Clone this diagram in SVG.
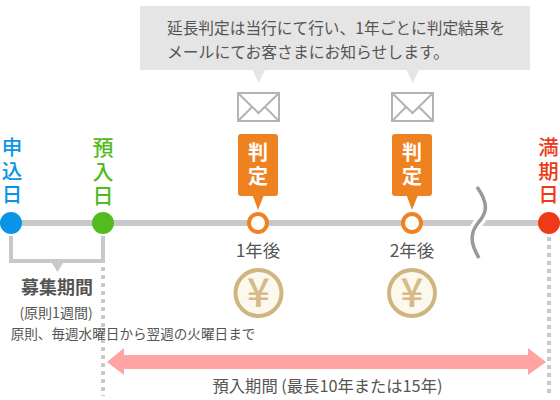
<svg xmlns="http://www.w3.org/2000/svg" width="560" height="400" viewBox="0 0 560 400">
<style>
text{font-family:"Noto Sans CJK JP","Noto Sans",sans-serif;fill:#555}
.m{text-anchor:middle}
.big{font-size:21px;font-weight:500;writing-mode:vertical-rl;letter-spacing:3px}
.edge{font-family:"Liberation Sans","Noto Sans CJK JP",sans-serif;font-size:20.500px}
.j{font-size:20px;fill:#fff;font-weight:700;writing-mode:vertical-rl;letter-spacing:4px}
.env{fill:#fff;stroke:#b3b3b3;stroke-width:2}
.envl{fill:none;stroke:#b3b3b3;stroke-width:2}
.grey{fill:#e5e5e5}
.or{fill:#ee8220}
.ring{fill:#fff;stroke:#ee8220;stroke-width:4}
.coin{fill:#fdf8ee;stroke:#cfb57f;stroke-width:4}
.yen{font-size:40px;text-anchor:middle;fill:#d4bb87;font-weight:500}
.dots{stroke:#c8c8c8;stroke-width:4;stroke-dasharray:4 4;fill:none}
</style>
<g id="connectors">
<path d="M0 223H549" stroke="#c8c8c8" stroke-width="6" fill="none"/>
<path d="M477 187C490 205 486 214 478 223C470 233 470 243 479 258" stroke="#fff" stroke-width="10" fill="none"/>
<path d="M477 187C490 205 486 214 478 223C470 233 470 243 479 258" stroke="#999" stroke-width="3.500" fill="none"/>
<path d="M11 236V261H103V236" stroke="#c8c8c8" stroke-width="4" fill="none"/>
<path d="M52 263H63L57.500 272Z" fill="#c8c8c8"/>
<path d="M103 267V396" class="dots"/>
<path d="M549 237V396" class="dots"/>
<path d="M107 362L124 348V355H528V348L546 362L528 375V369H124V375Z" fill="#ffa3a3"/>
</g>
<g id="note">
<rect class="grey" x="140" y="6" width="390" height="64"/>
<path class="grey" d="M252.500 70H265L258.700 83Z"/>
<path class="grey" d="M406.500 70H419L412.700 83Z"/>
<text x="167" y="34" font-size="15.700">延長判定は当行にて行い、1年ごとに判定結果を</text>
<text x="167" y="57.500" font-size="15.800">メールにてお客さまにお知らせします。</text>
</g>
<g id="mail1">
<rect class="env" x="238" y="93" width="41" height="28"/>
<path class="envl" d="M238 93L258.500 113L279 93M238 121L252 107M279 121L265 107"/>
</g>
<g id="mail2">
<rect class="env" x="392" y="93" width="41" height="28"/>
<path class="envl" d="M392 93L412.500 113L433 93M392 121L406 107M433 121L419 107"/>
</g>
<g id="start">
<text class="big edge" x="10.500" y="137" style="fill:#0a94e6">申込日</text>
<circle cx="11" cy="223" r="11" fill="#0a94e6"/>
</g>
<g id="deposit">
<text class="big" x="103" y="137" style="fill:#52bb20">預入日</text>
<circle cx="103" cy="223" r="11" fill="#52bb20"/>
</g>
<g id="period">
<text x="57" y="294" font-size="18" font-weight="700" class="m">募集期間</text>
<text x="56" y="318" font-size="14" class="m">(原則1週間)</text>
<text x="133" y="339" font-size="13.600" class="m">原則、毎週水曜日から翌週の火曜日まで</text>
</g>
<g id="check1">
<rect class="or" x="238" y="134" width="40" height="62" rx="3"/>
<path class="or" d="M252.500 195H264L258 210Z"/>
<text class="j" x="258" y="142">判定</text>
<circle class="ring" cx="258" cy="223" r="9"/>
<text x="258" y="257" font-size="17.500" class="m">1年後</text>
<circle class="coin" cx="258.500" cy="293" r="23"/>
<text class="yen" x="258.500" y="307">¥</text>
</g>
<g id="check2">
<rect class="or" x="392" y="134" width="40" height="62" rx="3"/>
<path class="or" d="M406.500 195H418L412 210Z"/>
<text class="j" x="412" y="142">判定</text>
<circle class="ring" cx="412" cy="223" r="9"/>
<text x="412" y="257" font-size="17.500" class="m">2年後</text>
<circle class="coin" cx="412" cy="293" r="23"/>
<text class="yen" x="412" y="307">¥</text>
</g>
<g id="maturity">
<text class="big edge" x="547" y="137" style="fill:#ee3a17">満期日</text>
<circle cx="549" cy="223" r="11" fill="#ee3a17"/>
</g>
<text id="term" x="327.500" y="392" font-size="16.300" class="m">預入期間 (最長10年または15年)</text>
</svg>
